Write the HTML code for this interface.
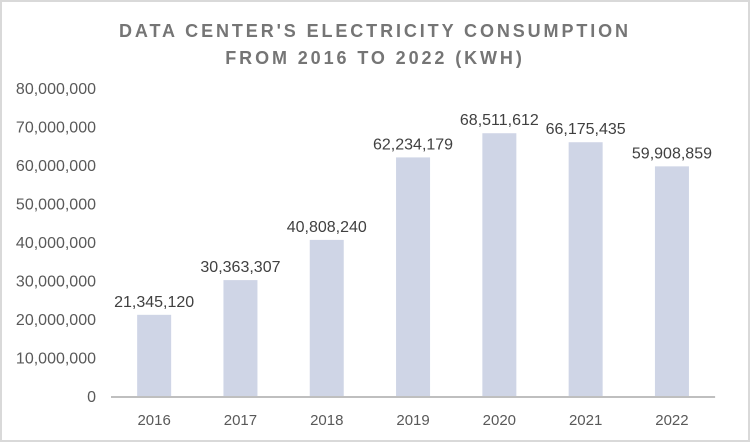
<!DOCTYPE html>
<html><head><meta charset="utf-8"><style>
body{margin:0;background:#fff;}
svg{display:block;font-family:"Liberation Sans",sans-serif;}
</style></head><body>
<svg id="chart" width="750" height="442">
<rect x="1" y="1" width="748" height="440" fill="#fff" stroke="#d9d9d9" stroke-width="2"/>
<text x="375" y="37" text-anchor="middle" font-size="18" font-weight="bold" letter-spacing="2.9" fill="#757575">DATA CENTER'S ELECTRICITY CONSUMPTION</text>
<text x="375" y="64" text-anchor="middle" font-size="18" font-weight="bold" letter-spacing="2.9" fill="#757575">FROM 2016 TO 2022 (KWH)</text>
<g id="yaxis"></g><g id="bars"></g><g id="xaxis"></g>
</svg>
<script>
const categories=["2016","2017","2018","2019","2020","2021","2022"];
const values=[21345120,30363307,40808240,62234179,68511612,66175435,59908859];
const yTicks=[0,10000000,20000000,30000000,40000000,50000000,60000000,70000000,80000000];
const NS="http://www.w3.org/2000/svg";
const y0=397,yTop=89,yMax=80000000;
function yScale(v){return y0-(v/yMax)*(y0-yTop);}
const x0=111,step=86.3;
function xScale(i){return x0+step*(i+0.5);}
function fmt(v){return v===0?"0":v.toLocaleString("en-US");}
function mk(tag,attrs,parent,text){const e=document.createElementNS(NS,tag);for(const k in attrs)e.setAttribute(k,attrs[k]);if(text!==undefined)e.textContent=text;parent.appendChild(e);return e;}
const ya=document.getElementById("yaxis"),ba=document.getElementById("bars"),xa=document.getElementById("xaxis");
yTicks.forEach(t=>{
  const el=mk("text",{x:96,y:yScale(t)+5,"text-anchor":"end","font-size":"16",fill:"#595959"},ya,fmt(t));
  
  
});
values.forEach((v,i)=>{
  const cx=xScale(i),w=34;
  const r=mk("rect",{x:cx-w/2,y:yScale(v),width:w,height:y0-yScale(v),fill:"#cfd5e6"},ba);
  
  
  const l=mk("text",{x:cx,y:yScale(v)-8,"text-anchor":"middle","font-size":"16",fill:"#404040"},ba,fmt(v));
  
  
  const c=mk("text",{x:cx,y:425,"text-anchor":"middle","font-size":"15",fill:"#595959"},xa,categories[i]);
  
  
});
const ax=mk("line",{x1:x0,x2:x0+step*7,y1:y0,y2:y0,stroke:"#bfbfbf","stroke-width":"2"},xa);


</script>
</body></html>
